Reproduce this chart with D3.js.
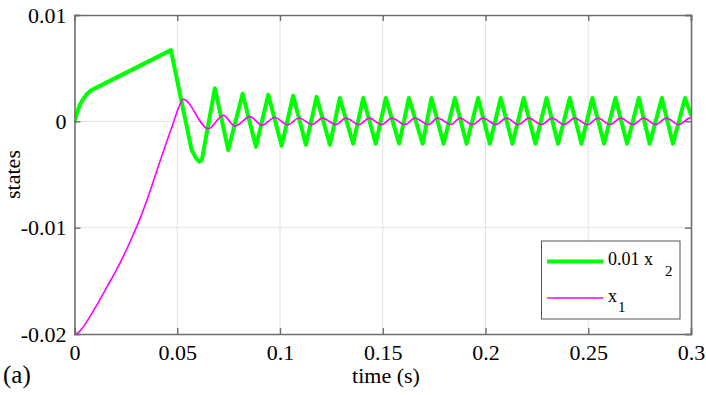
<!DOCTYPE html>
<html>
<head>
<meta charset="utf-8">
<script src="https://cdn.jsdelivr.net/npm/d3@7"></script>
<style>
  body { margin: 0; background: white; }
  text { font-family: "Liberation Serif", "Times New Roman", serif; fill: #000; }
</style>
</head>
<body>
<div id="viz"></div>
<script>
// tick values / labels
var xTicks = [0, 0.05, 0.1, 0.15, 0.2, 0.25, 0.3];
var xTickLabels = ['0', '0.05', '0.1', '0.15', '0.2', '0.25', '0.3'];
var yTicks = [-0.02, -0.01, 0, 0.01];
var yTickLabels = ['-0.02', '-0.01', '0', '0.01'];

// 0.01 x2 (green)
var x2Time = [0, 0.0014, 0.0027, 0.0043, 0.0059, 0.0080, 0.0100, 0.0469, 0.0570, 0.0593, 0.0607, 0.0620,
  0.0683, 0.0748, 0.0818, 0.0883, 0.0943, 0.1008, 0.1064, 0.1126, 0.1178, 0.1243, 0.1291, 0.1356,
  0.1405, 0.1466, 0.1515, 0.1580, 0.1627, 0.1694, 0.1737, 0.1796, 0.1851, 0.1908, 0.1964, 0.2021,
  0.2074, 0.2131, 0.2186, 0.2243, 0.2297, 0.2353, 0.2410, 0.2467, 0.2520, 0.2577, 0.2632, 0.2689,
  0.2746, 0.2799, 0.2858, 0.2912, 0.2971, 0.3000];
var x2Value = [0, 0.0009, 0.0016, 0.0021, 0.00254, 0.0029, 0.0031, 0.0067, -0.0027, -0.0035, -0.0038, -0.0036,
  0.0031, -0.0027, 0.0026, -0.0024, 0.0025, -0.0023, 0.0024, -0.0022, 0.0023, -0.0022, 0.0022, -0.0021,
  0.0022, -0.0021, 0.0022, -0.0021, 0.0022, -0.0021, 0.0022, -0.0021, 0.0022, -0.0021, 0.0022, -0.0021,
  0.0022, -0.0021, 0.0022, -0.0021, 0.0022, -0.0021, 0.0022, -0.0021, 0.0022, -0.0021, 0.0022, -0.0021,
  0.0022, -0.0021, 0.0022, -0.0021, 0.0022, 0.0006];

// x1 (magenta)
var x1Time = [0, 0.002, 0.004, 0.008, 0.012, 0.016, 0.020, 0.024, 0.028, 0.032, 0.036, 0.040, 0.044, 0.048,
  0.0505, 0.0529, 0.0651, 0.0724, 0.0781, 0.0854, 0.0912, 0.0975, 0.1037, 0.1093, 0.1155, 0.1207,
  0.1272, 0.1320, 0.1385, 0.1434, 0.1495, 0.1544, 0.1609, 0.1656, 0.1723, 0.1766, 0.1834, 0.1875,
  0.1937, 0.1988, 0.2050, 0.2102, 0.2160, 0.2211, 0.2272, 0.2324, 0.2382, 0.2434, 0.2496, 0.2548,
  0.2606, 0.2658, 0.2718, 0.2769, 0.2828, 0.2880, 0.2941, 0.2994, 0.3000];
var x1Value = [-0.02, -0.01985, -0.0194, -0.0182, -0.0169, -0.0155, -0.0141, -0.0126, -0.0109, -0.0091, -0.0070, -0.0047, -0.0024, -0.0002,
  0.0012, 0.00207, -0.00069, 0.00056, -0.00044, 0.00044, -0.00036, 0.00036, -0.00032, 0.00032, -0.0003, 0.0003,
  -0.0003, 0.0003, -0.0003, 0.0003, -0.0003, 0.0003, -0.0003, 0.0003, -0.0003, 0.0003, -0.0003, 0.0003,
  -0.0003, 0.0003, -0.0003, 0.0003, -0.0003, 0.0003, -0.0003, 0.0003, -0.0003, 0.0003, -0.0003, 0.0003,
  -0.0003, 0.0003, -0.0003, 0.0003, -0.0003, 0.0003, -0.0003, 0.0003, 0.0003];

var width = 706, height = 395,
    plotLeft = 74.5, plotRight = 691, plotTop = 15, plotBottom = 334,
    axisColor = '#6e6e6e',
    gridColor = '#e3e3e3';

var svg = d3.select('#viz').append('svg')
  .attr('width', width)
  .attr('height', height);

var xScale = d3.scaleLinear().domain([0, 0.3]).range([plotLeft, plotRight]);
var yScale = d3.scaleLinear().domain([-0.02, 0.01]).range([plotBottom, plotTop]);

// grid
svg.append('g')
  .selectAll('line').data(xTicks.slice(1, -1))
  .enter().append('line')
    .attr('x1', function(d) { return xScale(d) }).attr('x2', function(d) { return xScale(d) })
    .attr('y1', plotTop).attr('y2', plotBottom)
    .attr('stroke', gridColor).attr('stroke-width', 1);
svg.append('g')
  .selectAll('line').data(yTicks.slice(1, -1))
  .enter().append('line')
    .attr('y1', function(d) { return yScale(d) }).attr('y2', function(d) { return yScale(d) })
    .attr('x1', plotLeft).attr('x2', plotRight)
    .attr('stroke', gridColor).attr('stroke-width', 1);

// lines
svg.append('clipPath').attr('id', 'clip')
  .append('rect').attr('x', plotLeft).attr('y', plotTop)
  .attr('width', plotRight - plotLeft).attr('height', plotBottom - plotTop);

var greenLine = d3.line()
  .x(function(d, i) { return xScale(x2Time[i]) })
  .y(function(d) { return yScale(d) });

var pinkLine = d3.line()
  .curve(d3.curveMonotoneX)
  .x(function(d, i) { return xScale(x1Time[i]) })
  .y(function(d) { return yScale(d) });

svg.append('path')
  .attr('clip-path', 'url(#clip)')
  .attr('d', greenLine(x2Value))
  .attr('fill', 'none').attr('stroke', '#00ff00')
  .attr('stroke-width', 4).attr('stroke-linejoin', 'round').attr('stroke-linecap', 'round');

svg.append('path')
  .attr('clip-path', 'url(#clip)')
  .attr('d', pinkLine(x1Value))
  .attr('fill', 'none').attr('stroke', '#ff00ff')
  .attr('stroke-width', 1.6);

// axes: box with inward ticks on all sides
var xAxisBottom = d3.axisBottom(xScale).tickValues(xTicks)
  .tickSize(-6).tickPadding(10)
  .tickFormat(function(d, i) { return xTickLabels[i] });
var xAxisTop = d3.axisTop(xScale).tickValues(xTicks).tickSize(-6).tickFormat('');
var yAxisLeft = d3.axisLeft(yScale).tickValues(yTicks)
  .tickSize(-6).tickPadding(8)
  .tickFormat(function(d, i) { return yTickLabels[i] });
var yAxisRight = d3.axisRight(yScale).tickValues(yTicks).tickSize(-6).tickFormat('');

var gx = svg.append('g').attr('transform', 'translate(0,' + plotBottom + ')').call(xAxisBottom);
var gxt = svg.append('g').attr('transform', 'translate(0,' + plotTop + ')').call(xAxisTop);
var gy = svg.append('g').attr('transform', 'translate(' + plotLeft + ',0)').call(yAxisLeft);
var gyr = svg.append('g').attr('transform', 'translate(' + plotRight + ',0)').call(yAxisRight);

[gx, gxt, gy, gyr].forEach(function(g) {
  g.select('.domain').attr('stroke', axisColor).attr('stroke-width', 1.6);
  g.selectAll('.tick line').attr('stroke', axisColor).attr('stroke-width', 1.4);
  g.selectAll('.tick text')
    .style('font-family', '"Liberation Serif", serif')
    .style('font-size', '22px')
    .attr('fill', '#000');
});
gx.selectAll('.tick text').attr('dy', '0.71em');

// labels
svg.append('text')
  .attr('x', 386).attr('y', 383)
  .attr('text-anchor', 'middle')
  .style('font-size', '22px')
  .text('time (s)');

svg.append('text')
  .attr('transform', 'translate(20,' + ((plotTop + plotBottom) / 2) + ') rotate(-90)')
  .attr('text-anchor', 'middle')
  .style('font-size', '22px')
  .text('states');

svg.append('text')
  .attr('x', 3).attr('y', 383)
  .style('font-size', '25px')
  .text('(a)');

// legend
var legend = svg.append('g');
legend.append('rect')
  .attr('x', 541.5).attr('y', 241)
  .attr('width', 138.5).attr('height', 78)
  .attr('fill', 'white').attr('stroke', '#555').attr('stroke-width', 1);

legend.append('line')
  .attr('x1', 547).attr('x2', 603.5).attr('y1', 261.5).attr('y2', 261.5)
  .attr('stroke', '#00ff00').attr('stroke-width', 4);
legend.append('line')
  .attr('x1', 547).attr('x2', 603.5).attr('y1', 298).attr('y2', 298)
  .attr('stroke', '#ff00ff').attr('stroke-width', 1.6);

var t1 = legend.append('text').attr('x', 608).attr('y', 265).style('font-size', '18px');
t1.append('tspan').text('0.01 x');
t1.append('tspan').attr('dx', 12).attr('dy', 11).style('font-size', '15px').text('2');

var t2 = legend.append('text').attr('x', 608).attr('y', 301.5).style('font-size', '18px');
t2.append('tspan').text('x');
t2.append('tspan').attr('dx', 1).attr('dy', 10).style('font-size', '15px').text('1');
</script>
</body>
</html>
